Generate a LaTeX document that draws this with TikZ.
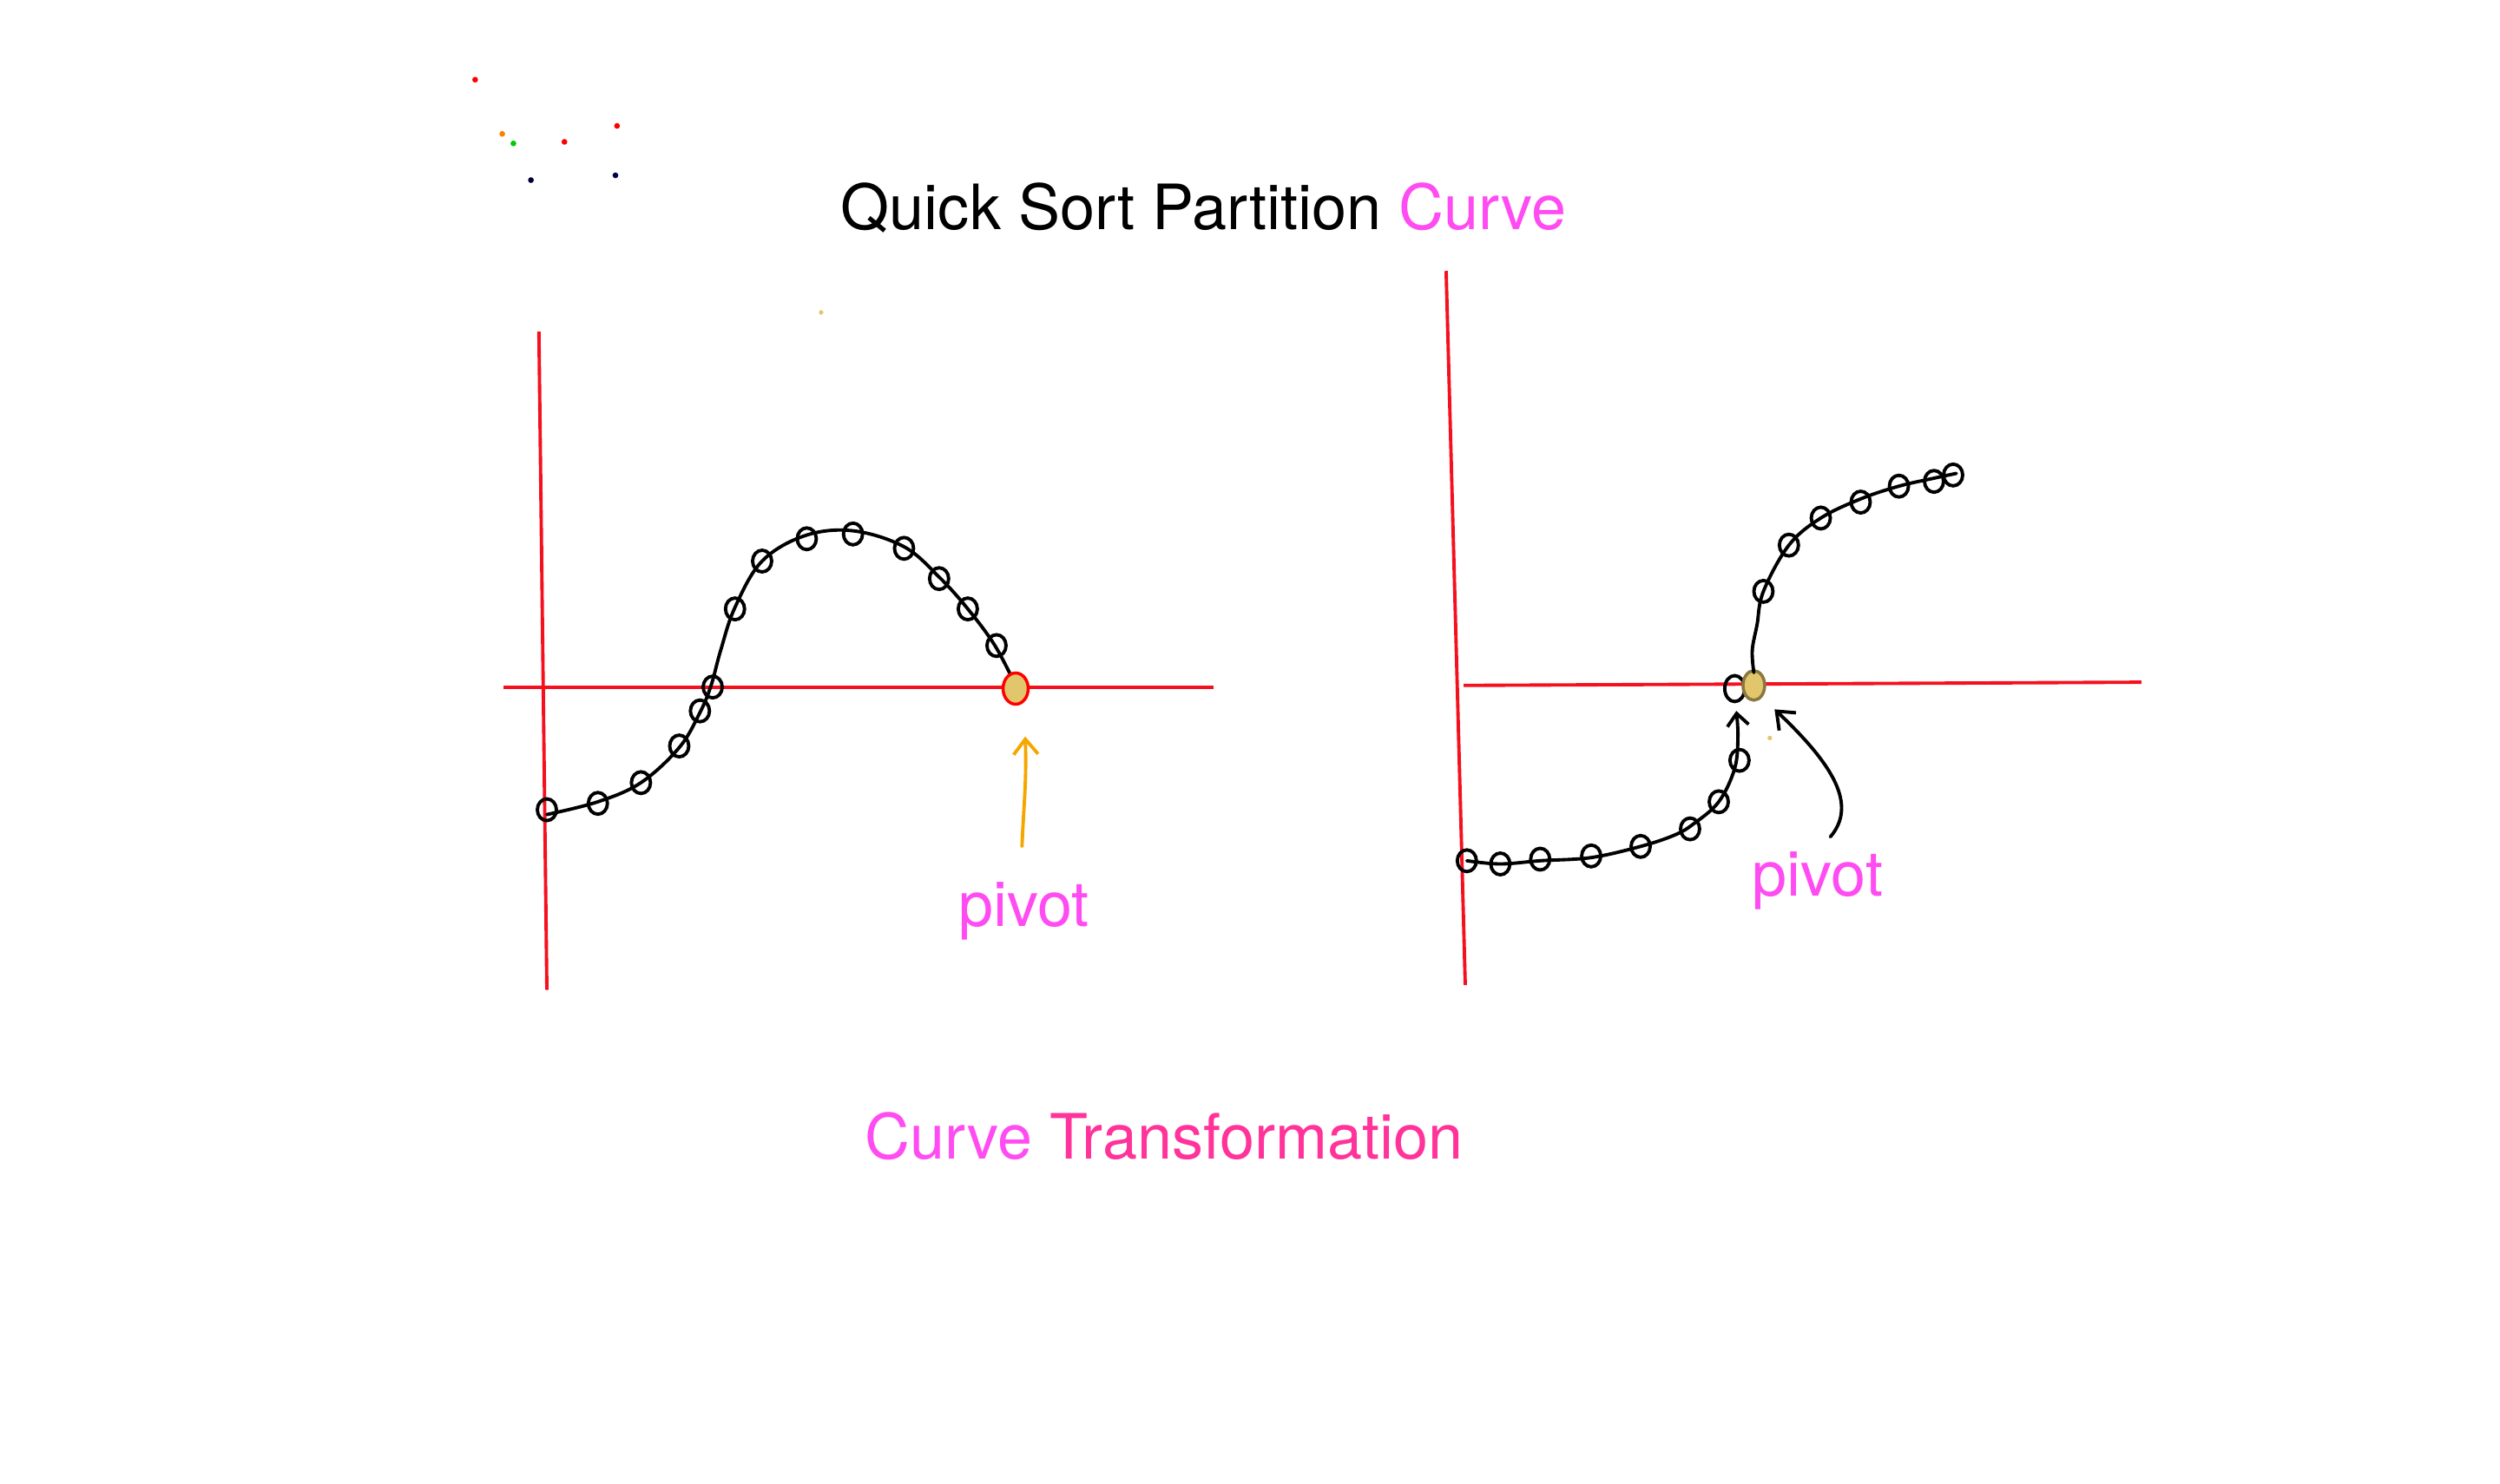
\documentclass[tikz,border=0pt]{standalone}
\usepackage{fontspec}
\setmainfont{TeX Gyre Heros}
\usetikzlibrary{arrows.meta,shapes.geometric}
\definecolor{axisred}{HTML}{F5101E}
\definecolor{pmag}{HTML}{FF4CF2}
\definecolor{ppink}{HTML}{FF3399}
\definecolor{porange}{HTML}{F5A700}
\definecolor{ptan}{HTML}{E2C66C}
\begin{document}
\begin{tikzpicture}[x=0.018367cm,y=-0.018367cm,
  axis/.style={draw=axisred,line width=1.1pt},
  curveline/.style={draw=black,line width=1.1pt,line cap=round,line join=round},
  ring/.style={draw=black,line width=1.1pt,ellipse,minimum width=0.22cm,minimum height=0.25cm,inner sep=0pt},
  pivotdot/.style={draw=#1,fill=ptan,line width=1pt,ellipse,minimum width=0.29cm,minimum height=0.36cm,inner sep=0pt},
  lbl/.style={font=\fontsize{20.5}{24}\selectfont,inner sep=0pt},
  tinydot/.style={circle,fill=#1,inner sep=0pt,minimum size=1.9pt}]
\useasboundingbox (0,0) rectangle (1568,931);
% tiny stray dots
\node[tinydot=red] (d1) at (298,50) {};
\node[tinydot=orange] (d2) at (315,84) {};
\node[tinydot=green!80!black] (d3) at (322,90) {};
\node[tinydot=red] (d4) at (354,89) {};
\node[tinydot=red] (d5) at (387,79) {};
\node[tinydot=black!80!blue] (d6) at (333,113) {};
\node[tinydot=black!70!blue] (d7) at (386,110) {};
\node[tinydot=ptan,minimum size=1.5pt] (d8) at (515,196) {};
% title
\node[lbl,anchor=base west] (title) at (527,144) {Quick Sort Partition \textcolor{pmag}{Curve}};
\node[lbl,anchor=base west] (sub) at (542,727) {\textcolor{pmag}{Curve} \textcolor{ppink}{Transformation}};
% left axes
\coordinate (lvt) at (338,208);
\coordinate (lvb) at (343,621);
\coordinate (lhl) at (316,431);
\coordinate (lhr) at (761,431);
\draw[axis] (lvt) -- (lvb);
\draw[axis] (lhl) -- (lhr);
% left curve
\draw[curveline] plot[smooth,tension=0.6] coordinates {(343,511) (375,503) (402,491) (426,469) (439,447) (446,430) (452,408) (461,381) (478,352) (505,336) (535,333) (567,343) (589,362) (607,382) (624,405) (637,430)};
\foreach \p [count=\i] in {(343,508),(375,504),(402,491),(426,468),(439,446),(447,431),(461,382),(478,352),(506,338),(535,335),(567,344),(589,363),(607,382),(625,405)}
  \node[ring] (l\i) at \p {};
\node[pivotdot=red] (lpiv) at (637,432) {};
% left pivot label and arrow
\node[lbl,text=pmag,anchor=base] (lplbl) at (642,581) {pivot};
\coordinate (larr) at (641,531);
\draw[draw=porange,line width=1.1pt,line cap=round,-{Straight Barb[length=5pt,width=8pt]}] (larr) .. controls (642,505) and (644,490) .. (643,462);
% right axes
\coordinate (rvt) at (907,170);
\coordinate (rvb) at (919,618);
\coordinate (rhl) at (918,430);
\coordinate (rhr) at (1343,428);
\draw[axis] (rvt) -- (rvb);
\draw[axis] (rhl) -- (rhr);
% right curve lower part with arrow
\node[ring,minimum width=0.23cm,minimum height=0.3cm] (ropen) at (1088,432) {};
\node[pivotdot=black!40!ptan,minimum width=0.25cm,minimum height=0.34cm] (rpiv) at (1100,430) {};
\draw[curveline,-{Straight Barb[length=4pt,width=7pt]}] plot[smooth,tension=0.6] coordinates {(920,540) (941,542) (966,540) (998,538) (1029,531) (1050,524) (1062,517) (1078,503) (1088,482) (1090,462) (1089,446)};
% right curve upper part
\draw[curveline] plot[smooth,tension=0.6] coordinates {(1100,422) (1099,408) (1102,392) (1106,371) (1122,342) (1142,325) (1167,313) (1191,305) (1213,300) (1227,297)};
\foreach \p [count=\i] in {(920,540),(941,542),(966,539),(998,537),(1029,531),(1060,520),(1078,503),(1091,477),(1106,371),(1122,342),(1142,325),(1167,315),(1191,305),(1213,302),(1225,298)}
  \node[ring] (r\i) at \p {};
% right pivot label and arrow
\node[lbl,text=pmag,anchor=base] (rplbl) at (1140,562) {pivot};
\coordinate (rarr) at (1148,525);
\draw[draw=black,line width=1.1pt,line cap=round,-{Straight Barb[length=5pt,width=8pt]}] (rarr) .. controls (1165,505) and (1150,480) .. (1113,445);
\node[tinydot=ptan,minimum size=1.5pt] (d9) at (1110,463) {};
\end{tikzpicture}
\end{document}
